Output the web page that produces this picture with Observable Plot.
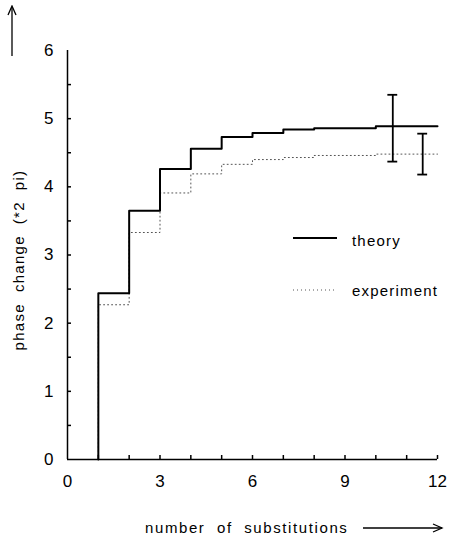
<!DOCTYPE html>
<html>
<head>
<meta charset="utf-8">
<script src="https://cdn.jsdelivr.net/npm/d3@7"></script>
<script src="https://cdn.jsdelivr.net/npm/@observablehq/plot@0.6"></script>
<style>
  html, body { margin: 0; padding: 0; background: #fff; }
  #wrap { position: relative; width: 449px; height: 542px; font-family: "Liberation Sans", Arial, sans-serif; color: #000; }
  #wrap svg { display: block; }
  .ov { position: absolute; font-size: 15px; white-space: nowrap; line-height: 1; }
</style>
</head>
<body>
<div id="wrap"></div>
<script>
// Step data (number of substitutions vs phase change in units of 2 pi)
const theoryX = [1, 1, 2, 3, 4, 5, 6, 7, 8, 10, 12];
const theoryY = [0, 2.44, 3.65, 4.26, 4.56, 4.73, 4.79, 4.84, 4.86, 4.89, 4.89];
const experimentX = [1, 1, 2, 3, 4, 5, 6, 7, 8, 10, 12];
const experimentY = [0, 2.27, 3.33, 3.91, 4.19, 4.33, 4.40, 4.43, 4.46, 4.48, 4.48];
// Error bars
const errX = [10.55, 11.52];
const errLow = [4.37, 4.18];
const errHigh = [5.35, 4.78];
// Ticks
const xTickLabels = [0, 3, 6, 9, 12];
const xMinorTicks = [1, 2, 3, 4, 5, 6, 7, 8, 9, 10, 11, 12];
const yTickLabels = [0, 1, 2, 3, 4, 5, 6];
const yMinorTicks = [0.5, 1, 1.5, 2, 2.5, 3, 3.5, 4, 4.5, 5, 5.5];

const theory = theoryX.map((x, i) => ({x, y: theoryY[i]}));
const experiment = experimentX.map((x, i) => ({x, y: experimentY[i]}));
const errs = errX.map((x, i) => ({x, lo: errLow[i], hi: errHigh[i]}));
const caps = errs.flatMap(d => [{x: d.x, y: d.lo}, {x: d.x, y: d.hi}]);

const chart = Plot.plot({
  width: 449,
  height: 542,
  marginLeft: 67,
  marginRight: 12,
  marginTop: 50,
  marginBottom: 83,
  style: {fontFamily: "Liberation Sans, Arial, sans-serif", fontSize: "17px", color: "#000", background: "#fff"},
  x: {type: "linear", domain: [0, 12]},
  y: {type: "linear", domain: [0, 6]},
  marks: [
    Plot.axisX({ticks: xTickLabels, tickSize: 0, tickPadding: 15, label: null, fontSize: 17, tickFormat: d3.format("d")}),
    Plot.axisX({ticks: xMinorTicks, tickSize: -4, text: null, label: null, strokeWidth: 1.5}),
    Plot.axisY({ticks: yTickLabels, tickSize: 0, tickPadding: 14, label: null, fontSize: 17, tickFormat: d3.format("d")}),
    Plot.axisY({ticks: yMinorTicks, tickSize: -4, text: null, label: null, strokeWidth: 1.5}),
    Plot.ruleX([0], {stroke: "#000", strokeWidth: 1.5}),
    Plot.ruleY([0], {stroke: "#000", strokeWidth: 1.5}),
    Plot.line(experiment, {x: "x", y: "y", curve: "step-after", stroke: "#555", strokeWidth: 1, strokeDasharray: "1,3"}),
    Plot.line(theory, {x: "x", y: "y", curve: "step-after", stroke: "#000", strokeWidth: 2}),
    Plot.ruleX(errs, {x: "x", y1: "lo", y2: "hi", stroke: "#000", strokeWidth: 1.8}),
    Plot.ruleY(caps, {x1: d => d.x - 0.16, x2: d => d.x + 0.16, y: "y", stroke: "#000", strokeWidth: 1.8})
  ]
});

const wrap = document.getElementById("wrap");
wrap.appendChild(chart);

function ov(html, style) {
  const d = document.createElement("div");
  d.className = "ov";
  d.innerHTML = html;
  Object.assign(d.style, style);
  wrap.appendChild(d);
  return d;
}

// y-axis label (rotated) and arrow
ov("phase&nbsp;&nbsp;change&nbsp;&nbsp;(*2&nbsp;&nbsp;pi)", {left: "18px", top: "260px", transform: "translate(-50%,-50%) rotate(-90deg)", fontSize: "15px", letterSpacing: "1.3px"});
ov('<svg width="12" height="52"><line x1="6" y1="51" x2="6" y2="2" stroke="#000" stroke-width="1.3"/><path d="M2,10 L6,1 L10,10" fill="none" stroke="#000" stroke-width="1.3"/></svg>', {left: "6px", top: "5px"});

// x-axis label and arrow
ov("number&nbsp;&nbsp;of&nbsp;&nbsp;substitutions", {left: "145px", top: "520px", fontSize: "15px", letterSpacing: "1.6px"});
ov('<svg width="82" height="12"><line x1="1" y1="6" x2="80" y2="6" stroke="#000" stroke-width="1.3"/><path d="M71,2 L80,6 L71,10" fill="none" stroke="#000" stroke-width="1.3"/></svg>', {left: "362px", top: "522px"});

// legend
ov('<svg width="48" height="6"><line x1="1" y1="3" x2="45" y2="3" stroke="#000" stroke-width="1.8"/></svg>', {left: "292px", top: "235px"});
ov("theory", {left: "352px", top: "233px", fontSize: "15px", letterSpacing: "1.2px"});
ov('<svg width="48" height="6"><line x1="1" y1="3" x2="45" y2="3" stroke="#555" stroke-width="1" stroke-dasharray="1,3"/></svg>', {left: "292px", top: "287px"});
ov("experiment", {left: "352px", top: "283px", fontSize: "15px", letterSpacing: "1.2px"});
</script>
</body>
</html>
